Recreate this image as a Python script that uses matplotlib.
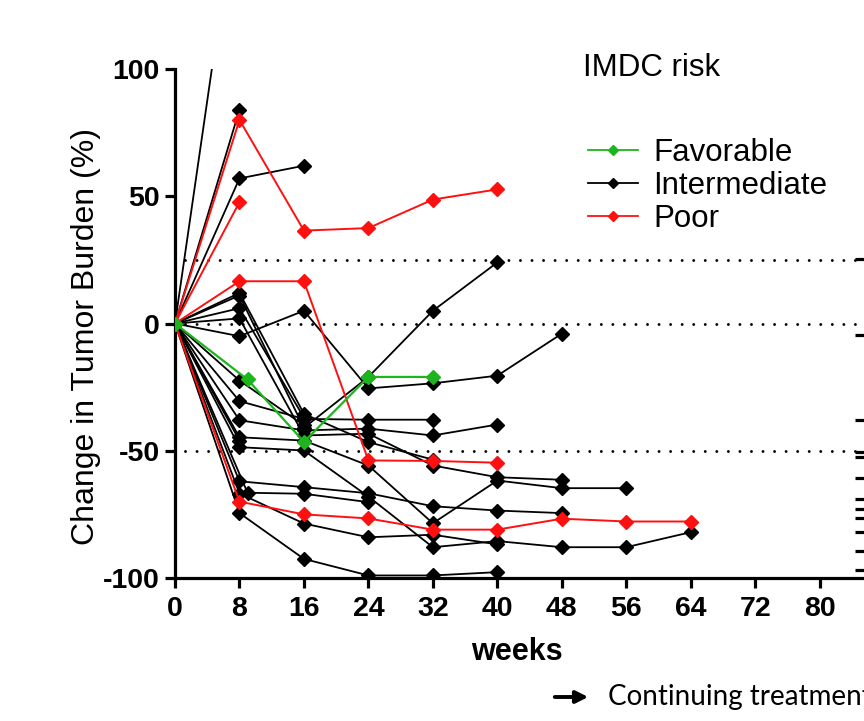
import matplotlib
import matplotlib.pyplot as plt
from matplotlib.lines import Line2D

matplotlib.use('Agg')

plt.rcParams['font.family'] = ['Liberation Sans', 'DejaVu Sans']
plt.rcParams['axes.unicode_minus'] = False

# weeks on treatment and % change in tumor burden, one list per patient
black_weeks = [
    [0, 8],
    [0, 8],
    [0, 8, 16],
    [0, 8, 16, 24, 32, 40, 48],
    [0, 8, 16, 24, 32, 40],
    [0, 8, 16, 24, 32],
    [0, 8, 16, 24, 32, 40],
    [0, 8, 16, 24, 32],
    [0, 8, 16, 24, 32, 40, 48],
    [0, 8, 16, 24, 32, 40, 48, 56, 64],
    [0, 8, 16, 24, 32, 40, 48],
    [0, 8, 16, 24, 32, 40, 48, 56],
    [0, 8, 16, 24, 32, 40],
    [0, 9, 16, 24],
    [0, 8, 16, 24, 32, 40],
    [0, 8, 16],
    [0, 8, 16],
    [0, 8],
]
black_vals = [
    [0, 175],
    [0, 84],
    [0, 57, 62],
    [0, -5, 5, -25.5, -23.5, -20.5, -4],
    [0, 11, -41, -21, 5, 24],
    [0, -30.5, -37.5, -37.8, -37.8],
    [0, -38, -42, -41.3, -44, -39.7],
    [0, 12, -35.5, -46.6, -53.5],
    [0, 2, -44, -43.3, -55.8, -60.4, -61.4],
    [0, -48.6, -49.9, -68, -87.9, -85.5, -87.9, -87.9, -82],
    [0, -62, -64.3, -66.7, -71.8, -73.5, -74.5],
    [0, -44.7, -46, -55.8, -78.5, -61.7, -64.7, -64.7],
    [0, -66.8, -78.6, -84, -83, -86.8],
    [0, -66.5, -66.9, -70.2],
    [0, -74.5, -92.5, -99, -99, -97.7],
    [0, 6, -37],
    [0, -22.4, -40],
    [0, -46],
]

red_weeks = [
    [0, 8, 16, 24, 32, 40],
    [0, 8],
    [0, 8, 16, 24, 32, 40],
    [0, 8, 16, 24, 32, 40, 48, 56, 64],
]
red_vals = [
    [0, 80, 36.5, 37.5, 48.7, 52.7],
    [0, 47.7],
    [0, 16.6, 16.6, -53.8, -54, -54.7],
    [0, -70, -75, -76.6, -81, -81, -76.7, -77.8, -77.8],
]

green_weeks = [[0, 9, 16, 24, 32]]
green_vals = [[0, -22, -46.5, -21, -21]]

# continuing-treatment arrows (cut off at the right edge)
continuing_vals = [25.4, -4.7, -38.1, -50.3, -52.3, -60.6, -68.9, -72.8,
                   -76.3, -82, -89.2, -97]

ref_lines = [25, 0, -50]
x_ticks = list(range(0, 81, 8))
y_ticks = [-100, -50, 0, 50, 100]

RED = '#ff1010'
GREEN = '#1db51d'

fig = plt.figure(figsize=(8.64, 7.21), dpi=100)
ax = fig.add_axes([175 / 864, 143 / 721, 689 / 864, 509 / 721])

for y in ref_lines:
    ax.plot([1.2, 85.5], [y, y], color='black', lw=2.1,
            linestyle=(0, (0.01, 3.95)), dash_capstyle='round', zorder=1)

for w, v in zip(black_weeks, black_vals):
    ax.plot(w, v, color='black', lw=1.3, marker='D', ms=7, zorder=2)
for w, v in zip(red_weeks, red_vals):
    ax.plot(w, v, color=RED, lw=1.4, marker='D', ms=7, zorder=3)
for w, v in zip(green_weeks, green_vals):
    ax.plot(w, v, color=GREEN, lw=1.6, marker='D', ms=7, zorder=4)

ax.plot([85.1] * len(continuing_vals), continuing_vals, linestyle='None',
        marker='_', ms=8, mew=2.3, color='black', clip_on=False, zorder=5)

ax.set_xlim(0, 85.5)
ax.set_ylim(-100, 100)
ax.set_xticks(x_ticks)
ax.set_yticks(y_ticks)
for s in ['top', 'right']:
    ax.spines[s].set_visible(False)
for s in ['left', 'bottom']:
    ax.spines[s].set_linewidth(2.3)
ax.tick_params(direction='out', length=7, width=2.3, labelsize=20.5, pad=4)
ax.tick_params(axis='x', pad=6)
for lbl in ax.get_xticklabels() + ax.get_yticklabels():
    lbl.set_fontweight('bold')

ax.set_xlabel('weeks', fontsize=22, fontweight='bold')
ax.xaxis.set_label_coords(0.496, -0.115)
ax.set_ylabel('Change in Tumor Burden (%)', fontsize=23)
ax.yaxis.set_label_coords(-0.108, 0.475)

fig.text(583 / 864, 1 - 68 / 721, 'IMDC risk', fontsize=22.5, va='center', ha='left')

handles = [
    Line2D([], [], color=GREEN, lw=1.3, marker='D', ms=5.5),
    Line2D([], [], color='black', lw=1.3, marker='D', ms=5.5),
    Line2D([], [], color=RED, lw=1.3, marker='D', ms=5.5),
]
fig.legend(handles, ['Favorable', 'Intermediate', 'Poor'], loc='upper left',
           bbox_to_anchor=(588 / 864, 1 - 138 / 721), bbox_transform=fig.transFigure,
           frameon=False, fontsize=22.5, handlelength=1.6, handletextpad=0.5,
           labelspacing=0.1, borderpad=0, borderaxespad=0)

ax.annotate('', xy=(591, 24), xytext=(552, 24), xycoords='figure pixels',
            textcoords='figure pixels',
            arrowprops=dict(arrowstyle='-|>', lw=2.8, color='black', mutation_scale=18))
fig.text(608 / 864, 24 / 721, 'Continuing treatment', fontsize=20,
         family=['Lato', 'DejaVu Sans'], va='center', ha='left')

fig.savefig('out.png', dpi=100)
